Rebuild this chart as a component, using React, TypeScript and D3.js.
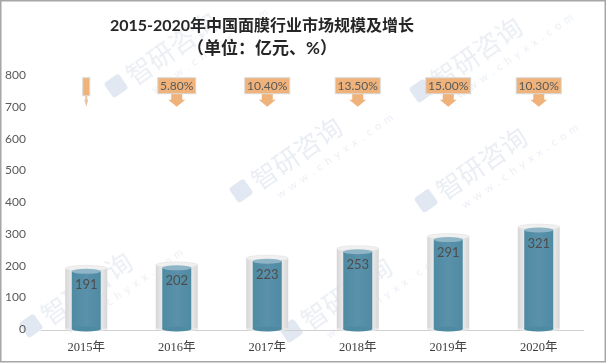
import React from "react";
import * as d3 from "d3";

const years = ["2015年", "2016年", "2017年", "2018年", "2019年", "2020年"];
const marketSize = [191, 202, 223, 253, 291, 321];
const growthLabels = ["", "5.80%", "10.40%", "13.50%", "15.00%", "10.30%"];
const yTicks = [0, 100, 200, 300, 400, 500, 600, 700, 800];
const titleLine1 = "2015-2020年中国面膜行业市场规模及增长";
const titleLine2 = "（单位：亿元、%）";
const calloutAnchor = 700;

const W = 606;
const H = 364;

const watermarks = [
  { x: 115, y: 100 },
  { x: 420, y: 105 },
  { x: 240, y: 205 },
  { x: 425, y: 215 },
  { x: 30, y: 340 },
  { x: 290, y: 345 },
];

export default function App() {
  const x = d3.scaleBand<string>().domain(years).range([41, 584]).paddingInner(0).paddingOuter(0);
  const y = d3.scaleLinear().domain([0, 800]).range([329, 75]);
  const bw = x.bandwidth();
  const glassW = 42;
  const barW = 29;
  const sans = "Lato, 'Noto Sans CJK SC', sans-serif";

  return (
    <svg width={W} height={H} style={{ position: "absolute", left: 0, top: 0, background: "#fff" }}>
      <defs>
        <linearGradient id="glass" x1="0" x2="1" y1="0" y2="0">
          <stop offset="0" stopColor="#d6d6d6" />
          <stop offset="0.2" stopColor="#efefef" />
          <stop offset="0.5" stopColor="#f9f9f9" />
          <stop offset="0.8" stopColor="#efefef" />
          <stop offset="1" stopColor="#d6d6d6" />
        </linearGradient>
        <linearGradient id="blue" x1="0" x2="1" y1="0" y2="0">
          <stop offset="0" stopColor="#4f8aa3" />
          <stop offset="0.5" stopColor="#5b91aa" />
          <stop offset="1" stopColor="#4f8aa3" />
        </linearGradient>
      </defs>
      <rect x={0} y={0} width={W} height={H} fill="#fff" />

      {/* watermarks */}
      <g fill="#c3cfdf" opacity={0.35}>
        {watermarks.map((w, i) => (
          <g key={i} transform={`translate(${w.x},${w.y}) rotate(-35)`}>
            <rect x={0} y={-20} width={18} height={18} rx={3} fill="#a9bcd6" />
            <text x={24} y={0} fontSize={26} fontFamily="'Noto Sans CJK SC'" fontWeight={400}>
              智研咨询
            </text>
            <text x={36} y={18} fontSize={11} letterSpacing={5} fontFamily="Lato">
              www.chyxx.com
            </text>
          </g>
        ))}
      </g>

      {/* title */}
      <text x={262} y={31} textAnchor="middle" fontSize={16} fontWeight={700} fill="#262626" fontFamily={sans}>
        {titleLine1}
      </text>
      <text x={262} y={54} textAnchor="middle" fontSize={17} fontWeight={700} fill="#262626" fontFamily={sans}>
        {titleLine2}
      </text>

      {/* y ticks */}
      {yTicks.map((t) => (
        <text key={t} x={26} y={y(t)} dy="0.35em" textAnchor="end" fontSize={12} fill="#595959" fontFamily={sans}>
          {t}
        </text>
      ))}

      {/* axis */}
      <line x1={41} x2={584} y1={330.5} y2={330.5} stroke="#d0d0d0" strokeWidth={1} />

      {/* bars */}
      {years.map((yr, i) => {
        const cx = (x(yr) as number) + bw / 2;
        const v = marketSize[i];
        const gTop = y(v);
        const bTop = y(v) + 3;
        const base = y(0);
        return (
          <g key={yr}>
            <rect x={cx - glassW / 2} y={gTop} width={glassW} height={base - gTop} fill="url(#glass)" />
            <ellipse cx={cx} cy={base} rx={glassW / 2} ry={2.5} fill="#e8e8e8" />
            <ellipse cx={cx} cy={gTop} rx={glassW / 2} ry={3} fill="#f0f0f0" stroke="#dcdcdc" strokeWidth={0.5} />
            <rect x={cx - barW / 2} y={bTop} width={barW} height={base - bTop} fill="url(#blue)" />
            <ellipse cx={cx} cy={base} rx={barW / 2} ry={2.5} fill="#4f8aa3" />
            <ellipse cx={cx} cy={bTop} rx={barW / 2} ry={2.5} fill="#8fb5c7" />
            <text x={cx} y={bTop + 13} dy="0.35em" textAnchor="middle" fontSize={13} fill="#4d4d4d" fontFamily={sans}>
              {v}
            </text>
            <text x={cx} y={347} dy="0.35em" textAnchor="middle" fontSize={12.5} fill="#404040" fontFamily="'Liberation Serif', 'Noto Sans CJK SC', serif">
              {yr}
            </text>
          </g>
        );
      })}

      {/* growth callouts */}
      {years.map((yr, i) => {
        const cx = (x(yr) as number) + bw / 2;
        const label = growthLabels[i];
        const tip = y(calloutAnchor);
        const empty = label === "";
        const boxW = empty ? 7 : label.length * 7 + 3;
        const boxTop = tip - 29;
        const boxBot = empty ? tip - 11 : tip - 13;
        const shaftW = empty ? 2 : 11;
        const headW = empty ? 4 : 17;
        const headTop = tip - 7;
        const arrow = `M${cx - shaftW / 2},${boxBot} L${cx + shaftW / 2},${boxBot} L${cx + shaftW / 2},${headTop} L${cx + headW / 2},${headTop} L${cx},${tip} L${cx - headW / 2},${headTop} L${cx - shaftW / 2},${headTop} Z`;
        return (
          <g key={"c" + yr}>
            <path d={arrow} fill={empty ? "#e8c3a0" : "#efb27b"} />
            <rect x={cx - boxW / 2} y={boxTop} width={boxW} height={boxBot - boxTop} fill="#efb27b" stroke="#d9d9d9" strokeWidth={1} />
            {!empty && (
              <text x={cx} y={(boxTop + boxBot) / 2} dy="0.35em" textAnchor="middle" fontSize={12} fill="#595959" fontFamily={sans}>
                {label}
              </text>
            )}
          </g>
        );
      })}

      {/* border */}
      <rect x={0.75} y={0.75} width={W - 1.5} height={H - 3} fill="none" stroke="#a6a6a6" strokeWidth={1.5} />
    </svg>
  );
}
